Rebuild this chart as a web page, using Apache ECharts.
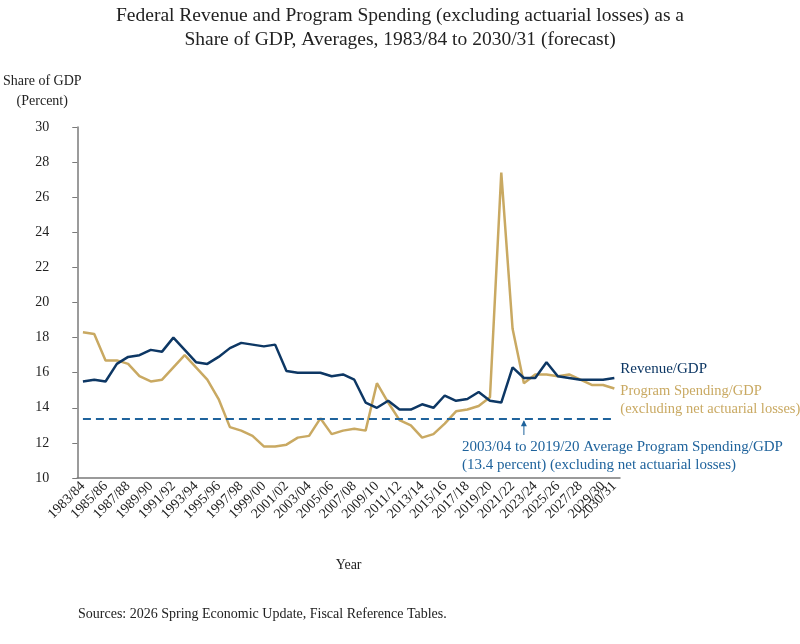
<!DOCTYPE html>
<html>
<head>
<meta charset="utf-8">
<script src="https://cdn.jsdelivr.net/npm/echarts@6/dist/echarts.min.js"></script>
<style>
  html, body { margin: 0; padding: 0; background: #fff; }
  #main { width: 800px; height: 644px; }
</style>
</head>
<body>
<div id="main"></div>
<script>
// fiscal years 1983/84 .. 2030/31
var years = [
  '1983/84','1984/85','1985/86','1986/87','1987/88','1988/89','1989/90','1990/91',
  '1991/92','1992/93','1993/94','1994/95','1995/96','1996/97','1997/98','1998/99',
  '1999/00','2000/01','2001/02','2002/03','2003/04','2004/05','2005/06','2006/07',
  '2007/08','2008/09','2009/10','2010/11','2011/12','2012/13','2013/14','2014/15',
  '2015/16','2016/17','2017/18','2018/19','2019/20','2020/21','2021/22','2022/23',
  '2023/24','2024/25','2025/26','2026/27','2027/28','2028/29','2029/30','2030/31'
];

var revenue = [
  15.5, 15.6, 15.5, 16.5, 16.9, 17.0, 17.3, 17.2, 18.0, 17.3, 16.6, 16.5,
  16.9, 17.4, 17.7, 17.6, 17.5, 17.6, 16.1, 16.0, 16.0, 16.0, 15.8, 15.9,
  15.6, 14.3, 14.0, 14.4, 13.9, 13.9, 14.2, 14.0, 14.7, 14.4, 14.5, 14.9,
  14.4, 14.3, 16.3, 15.7, 15.7, 16.6, 15.8, 15.7, 15.6, 15.6, 15.6, 15.7
];

var spending = [
  18.3, 18.2, 16.7, 16.7, 16.5, 15.8, 15.5, 15.6, 16.3, 17.0, 16.3, 15.6,
  14.5, 12.9, 12.7, 12.4, 11.8, 11.8, 11.9, 12.3, 12.4, 13.4, 12.5, 12.7,
  12.8, 12.7, 15.4, 14.3, 13.3, 13.0, 12.3, 12.5, 13.1, 13.8, 13.9, 14.1,
  14.6, 27.4, 18.5, 15.4, 15.9, 15.9, 15.8, 15.9, 15.6, 15.3, 15.3, 15.1
];

var avgSpending = 13.4;   // 2003/04 to 2019/20 average
var yTicks = { min: 10, max: 30, step: 2 };

var serif = '"Liberation Serif", "DejaVu Serif", serif';
var navy = '#0d3764';
var gold = '#c9a962';
var blue = '#1f639c';
var last = years.length - 1;

var xLabel = {
  rotate: 45,
  margin: 6,
  fontFamily: serif,
  fontSize: 14,
  color: '#222'
};

var chart = echarts.init(document.getElementById('main'));

var option = {
  animation: false,
  backgroundColor: '#fff',
  title: {
    text: 'Federal Revenue and Program Spending (excluding actuarial losses) as a\nShare of GDP, Averages, 1983/84 to 2030/31 (forecast)',
    left: 'center',
    top: -1,
    textStyle: { fontFamily: serif, fontWeight: 'normal', fontSize: 19.5, lineHeight: 24, color: '#222' }
  },
  grid: { left: 77, right: 180, top: 127, bottom: 166 },
  xAxis: [
    {
      type: 'category',
      data: years,
      boundaryGap: true,
      name: 'Year',
      nameLocation: 'middle',
      nameGap: 80,
      nameTextStyle: { fontFamily: serif, fontSize: 14, color: '#222' },
      axisLine: { lineStyle: { color: '#7a7a7a', width: 1.5 } },
      axisTick: { interval: 0, length: 5, lineStyle: { color: '#7a7a7a' } },
      axisLabel: Object.assign({}, xLabel, {
        interval: function (i) { return i % 2 === 0; }
      })
    },
    {
      // carries only the final year's label, which overlaps the one before it
      type: 'category',
      data: years,
      boundaryGap: true,
      position: 'bottom',
      axisLine: { show: false },
      axisTick: { show: false },
      axisLabel: Object.assign({}, xLabel, {
        showMaxLabel: true,
        interval: function (i) { return i === last; }
      })
    }
  ],
  yAxis: {
    type: 'value',
    min: yTicks.min,
    max: yTicks.max,
    interval: yTicks.step,
    name: 'Share of GDP\n(Percent)',
    nameLocation: 'end',
    nameGap: 16,
    nameTextStyle: { fontFamily: serif, fontSize: 14, lineHeight: 20, color: '#222', align: 'center', padding: [0, 70, 0, 0] },
    splitLine: { show: false },
    axisLine: { show: true, lineStyle: { color: '#7a7a7a', width: 1.5 } },
    axisTick: { show: true, length: 5, lineStyle: { color: '#7a7a7a' } },
    axisLabel: { margin: 28, fontFamily: serif, fontSize: 14, color: '#222' }
  },
  series: [
    {
      name: 'Revenue/GDP',
      type: 'line',
      data: revenue,
      symbol: 'none',
      lineStyle: { color: navy, width: 2.5 },
      itemStyle: { color: navy },
      endLabel: {
        show: true,
        formatter: 'Revenue/GDP',
        offset: [0, -9],
        distance: 6,
        fontFamily: serif,
        fontSize: 15,
        color: navy
      },
      z: 3
    },
    {
      name: 'Program Spending/GDP',
      type: 'line',
      data: spending,
      symbol: 'none',
      lineStyle: { color: gold, width: 2.5 },
      itemStyle: { color: gold },
      endLabel: {
        show: true,
        formatter: 'Program Spending/GDP\n(excluding net actuarial losses)',
        offset: [0, 12],
        distance: 6,
        fontFamily: serif,
        fontSize: 14.5,
        lineHeight: 18,
        color: gold
      },
      markLine: {
        silent: true,
        symbol: 'none',
        label: { show: false },
        lineStyle: { color: blue, width: 2, type: [8, 5] },
        data: [[
          { coord: [years[0], avgSpending] },
          { coord: [years[last], avgSpending] }
        ]]
      },
      z: 2
    }
  ]
};

chart.setOption(option);

// annotation under the average line, positioned from the axis scales
var arrowTop = chart.convertToPixel({ seriesIndex: 0 }, [38.5, avgSpending]);
var arrowBot = chart.convertToPixel({ seriesIndex: 0 }, [38.5, 12.45]);
chart.setOption({
  graphic: [
    {
      type: 'line',
      shape: { x1: arrowTop[0], y1: arrowTop[1] + 3, x2: arrowBot[0], y2: arrowBot[1] },
      style: { stroke: blue, lineWidth: 1 }
    },
    {
      type: 'polygon',
      shape: { points: [[arrowTop[0], arrowTop[1] + 2], [arrowTop[0] - 3, arrowTop[1] + 8], [arrowTop[0] + 3, arrowTop[1] + 8]] },
      style: { fill: blue }
    },
    {
      type: 'text',
      left: 462,
      top: arrowBot[1] + 3,
      style: {
        text: '2003/04 to 2019/20 Average Program Spending/GDP\n(13.4 percent) (excluding net actuarial losses)',
        font: '15px ' + serif,
        lineHeight: 18,
        fill: blue
      }
    },
    {
      type: 'text',
      left: 78,
      top: 607,
      style: {
        text: 'Sources: 2026 Spring Economic Update, Fiscal Reference Tables.',
        font: '14px ' + serif,
        fill: '#222'
      }
    }
  ]
});
</script>
</body>
</html>
